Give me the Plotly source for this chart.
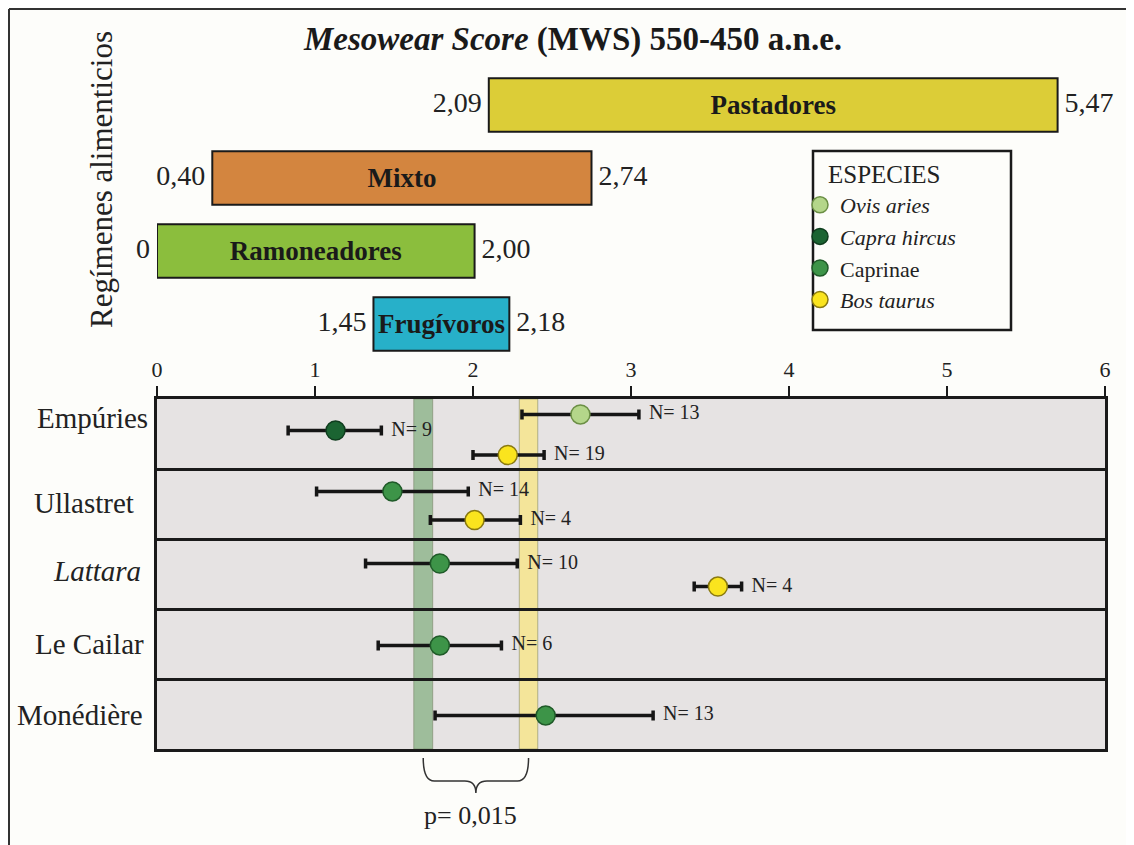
import plotly.graph_objects as go

# regímenes alimenticios (top bars), ordered bottom -> top
diet_names = ["Frugívoros", "Ramoneadores", "Mixto", "Pastadores"]
diet_start = [1.37, 0.0, 0.35, 2.10]
diet_end = [2.23, 2.01, 2.75, 5.70]
diet_left_lbl = ["1,45", "0", "0,40", "2,09"]
diet_right_lbl = ["2,18", "2,00", "2,74", "5,47"]
diet_colors = ["#27b0c9", "#8bbe3d", "#d3853f", "#dccd37"]

# sites (bottom panel), top -> bottom
sites = ["Empúries", "Ullastret", "<i>Lattara</i>", "Le Cailar", "Monédière"]

# mesowear points
pt_site = [0, 0, 0, 1, 1, 2, 2, 3, 4]
pt_species = ["ovis", "capra", "bos", "caprinae", "bos", "caprinae", "bos", "caprinae", "caprinae"]
pt_mean = [2.68, 1.13, 2.22, 1.49, 2.01, 1.79, 3.55, 1.79, 2.46]
pt_lo = [2.31, 0.83, 2.00, 1.01, 1.73, 1.32, 3.40, 1.40, 1.76]
pt_hi = [3.05, 1.42, 2.45, 1.97, 2.30, 2.28, 3.70, 2.18, 3.14]
pt_n = [13, 9, 19, 14, 4, 10, 4, 6, 13]

species = ["ovis", "capra", "caprinae", "bos"]
species_names = ["<i>Ovis aries</i>", "<i>Capra hircus</i>", "Caprinae", "<i>Bos taurus</i>"]
species_fill = ["#b4d68a", "#1b6432", "#3d9448", "#fae41e"]
species_edge = ["#6b8f45", "#0f3d1e", "#1f5a28", "#8a7a10"]

# shaded bands (Caprinae / Bos taurus) and p-value
bands = [(1.625, 1.745), (2.293, 2.41)]
band_colors = ["rgba(150,184,146,0.9)", "rgba(245,228,145,0.9)"]
p_label = "p= 0,015"

# layout helpers (vertical slot inside each row, 0 = top of row)
slot = [0.22, 0.45, 0.80, 0.32, 0.73, 0.35, 0.68, 0.52, 0.52]
site_slot = [0.27, 0.48, 0.45, 0.50, 0.52]
site_right = [150, 136, 143, 146, 145]
nrows = len(sites)

FONT = "Liberation Serif"
OFF = 8  # page body margin
W, H = 1134 - OFF, 845 - OFF
ML, MR = 157 - OFF, 29


def row_y(i, frac):
    return nrows - i - frac


def py(pix):
    # reference pixel (from top) -> paper y
    return (H - (pix - OFF)) / H


def px(pix):
    return (pix - OFF - ML) / (W - ML - MR)


fig = go.Figure()

# top bars
fig.add_trace(go.Bar(
    y=list(range(len(diet_names))),
    x=[e - s for s, e in zip(diet_start, diet_end)],
    base=diet_start, orientation="h", width=0.73,
    marker=dict(color=diet_colors, line=dict(color="#1a1a1a", width=2)),
    text=["<b>%s</b>" % n for n in diet_names],
    textposition="inside", insidetextanchor="middle", constraintext="none",
    textfont=dict(family=FONT, size=27, color="#1a1a1a"),
    xaxis="x2", yaxis="y2", showlegend=False, hoverinfo="skip"))
fig.add_trace(go.Scatter(
    x=diet_start, y=list(range(len(diet_names))), mode="text",
    text=[s + " " for s in diet_left_lbl], textposition="middle left",
    textfont=dict(family=FONT, size=28, color="#222"),
    xaxis="x2", yaxis="y2", showlegend=False, cliponaxis=False))
fig.add_trace(go.Scatter(
    x=diet_end, y=list(range(len(diet_names))), mode="text",
    text=[" " + s for s in diet_right_lbl], textposition="middle right",
    textfont=dict(family=FONT, size=28, color="#222"),
    xaxis="x2", yaxis="y2", showlegend=False, cliponaxis=False))

# points with error bars, one trace per species
for sp, nm, fc, ec in zip(species, species_names, species_fill, species_edge):
    idx = [k for k, s in enumerate(pt_species) if s == sp]
    fig.add_trace(go.Scatter(
        x=[pt_mean[k] for k in idx],
        y=[row_y(pt_site[k], slot[k]) for k in idx],
        mode="markers", name=nm,
        marker=dict(size=19, color=fc, line=dict(color=ec, width=1.5)),
        error_x=dict(type="data", symmetric=False,
                     array=[pt_hi[k] - pt_mean[k] for k in idx],
                     arrayminus=[pt_mean[k] - pt_lo[k] for k in idx],
                     color="#151515", thickness=3.5, width=5),
        xaxis="x", yaxis="y", cliponaxis=False))

# N labels
fig.add_trace(go.Scatter(
    x=pt_hi, y=[row_y(s, f) for s, f in zip(pt_site, slot)], mode="text",
    text=["  N= %d" % n for n in pt_n], textposition="middle right",
    textfont=dict(family=FONT, size=20, color="#222"),
    xaxis="x", yaxis="y", showlegend=False, cliponaxis=False))

shapes = [
    dict(type="rect", xref="x domain", yref="y domain", x0=0, x1=1, y0=0, y1=1,
         fillcolor="#e6e3e3", line=dict(width=0), layer="below"),
]
for (b0, b1), bc in zip(bands, band_colors):
    shapes.append(dict(type="rect", xref="x", yref="y domain", x0=b0, x1=b1, y0=0, y1=1,
                       fillcolor=bc, line=dict(width=1, color="rgba(110,120,90,0.5)"), layer="below"))

# brace between the two bands
x1 = sum(bands[0]) / 2
x2 = sum(bands[1]) / 2
xm = (x1 + x2) / 2
d = 0.07
yt, ym, yb = py(758), py(781), py(793)
brace = (f"M {x1},{yt} Q {x1},{ym} {x1 + d},{ym} L {xm - d},{ym} Q {xm},{ym} {xm},{yb} "
         f"Q {xm},{ym} {xm + d},{ym} L {x2 - d},{ym} Q {x2},{ym} {x2},{yt}")
shapes.append(dict(type="path", xref="x", yref="paper", path=brace,
                   line=dict(color="#333", width=1.5)))

# legend box
shapes.append(dict(type="rect", xref="paper", yref="paper",
                   x0=px(813), x1=px(1011), y0=py(330), y1=py(151),
                   line=dict(color="#1a1a1a", width=2.5), fillcolor="rgba(0,0,0,0)"))
# outer frame (top and left)
shapes.append(dict(type="line", xref="paper", yref="paper", x0=px(OFF + 1), x1=px(1140),
                   y0=py(OFF + 1), y1=py(OFF + 1), line=dict(color="#333", width=2)))
shapes.append(dict(type="line", xref="paper", yref="paper", x0=px(OFF + 1), x1=px(OFF + 1),
                   y0=py(OFF + 1), y1=py(850), line=dict(color="#333", width=2)))

annotations = [
    dict(text="<b><i>Mesowear Score</i> (MWS) 550-450 a.n.e.</b>", xref="paper", yref="paper",
         x=px(572), y=py(40), xanchor="center", yanchor="middle", showarrow=False,
         font=dict(family=FONT, size=33, color="#1a1a1a")),
    dict(text="Regímenes alimenticios", xref="paper", yref="paper", x=px(102), y=py(180),
         xanchor="center", yanchor="middle",
         textangle=-90, showarrow=False, font=dict(family=FONT, size=31, color="#222")),
    dict(text=p_label, xref="paper", yref="paper", x=px(470), y=py(815),
         xanchor="center", yanchor="middle", showarrow=False,
         font=dict(family=FONT, size=26, color="#222")),
    dict(text="ESPECIES", xref="paper", yref="paper", x=px(826), y=py(175),
         xanchor="left", yanchor="middle", showarrow=False,
         font=dict(family=FONT, size=25, color="#222")),
]
for i, (s, f, r) in enumerate(zip(sites, site_slot, site_right)):
    annotations.append(dict(text=s, xref="paper", yref="y", x=px(r), y=row_y(i, f),
                            xanchor="right", yanchor="middle", showarrow=False,
                            font=dict(family=FONT, size=29, color="#222")))

fig.update_layout(
    width=W, height=H,
    margin=dict(l=ML, r=MR, t=0, b=0),
    paper_bgcolor="#fdfdfa", plot_bgcolor="rgba(0,0,0,0)",
    font=dict(family=FONT, color="#222"),
    xaxis=dict(domain=[0, 1], range=[0, 6], anchor="y", side="top",
               tickvals=[0, 1, 2, 3, 4, 5, 6], ticks="outside", ticklen=10, tickwidth=2,
               tickcolor="#1a1a1a", tickfont=dict(family=FONT, size=22, color="#222"),
               showline=True, linecolor="#1a1a1a", linewidth=2.5, mirror=True,
               showgrid=False, zeroline=False),
    yaxis=dict(domain=[py(749), py(399)], range=[0, nrows], tickvals=[1, 2, 3, 4],
               showticklabels=False, ticks="", showgrid=True, gridcolor="#1a1a1a", gridwidth=2.5,
               showline=True, linecolor="#1a1a1a", linewidth=2.5, mirror=True, zeroline=False),
    xaxis2=dict(matches="x", anchor="y2", visible=False),
    yaxis2=dict(domain=[py(360.5), py(68.5)], range=[-0.5, 3.5], visible=False),
    shapes=shapes,
    annotations=annotations,
    showlegend=True,
    legend=dict(x=px(800), y=py(184), xanchor="left", yanchor="top",
                bgcolor="rgba(0,0,0,0)", borderwidth=0,
                font=dict(family=FONT, size=22, color="#222"), itemsizing="trace",
                tracegroupgap=0),
)

fig.write_html("out.html")
